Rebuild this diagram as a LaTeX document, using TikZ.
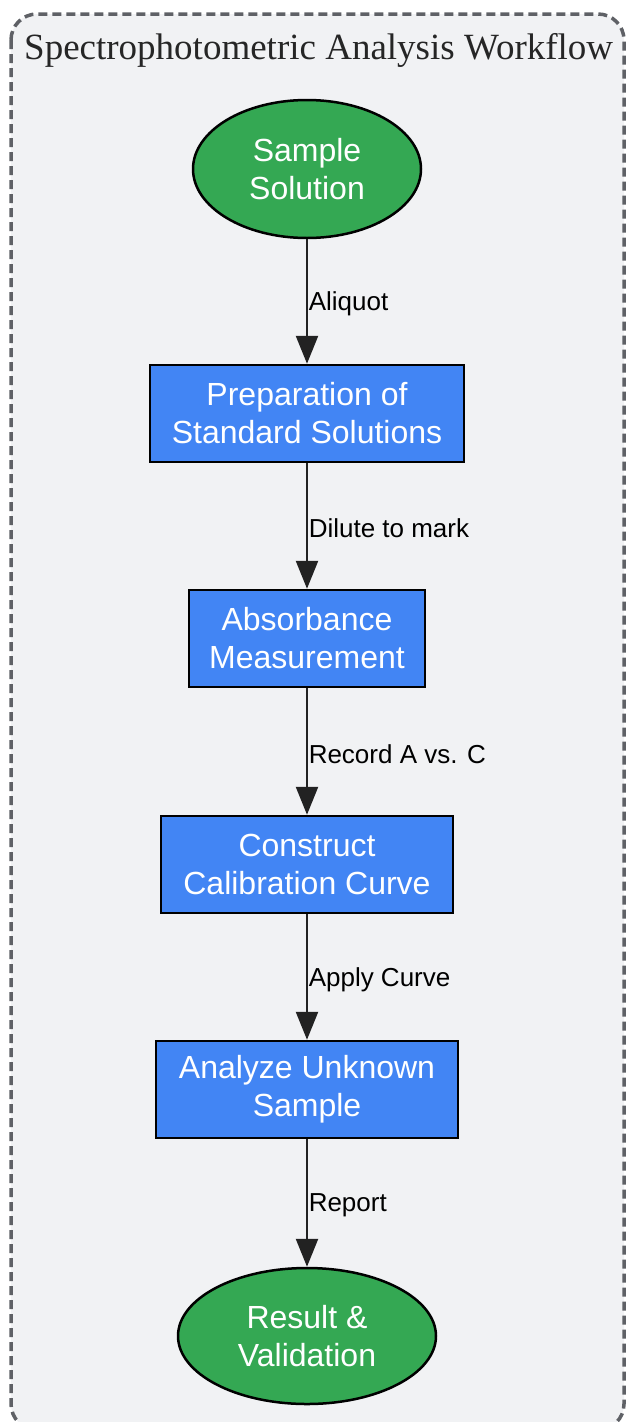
\documentclass[tikz,border=0pt]{standalone}
\usepackage{fontspec}
\setmainfont{Liberation Serif}
\newfontfamily\arialf{Liberation Sans}
\usetikzlibrary{shapes.geometric,arrows.meta}
\definecolor{bgfill}{HTML}{F1F2F4}
\definecolor{frame}{HTML}{5F6166}
\definecolor{gfill}{HTML}{34A853}
\definecolor{bfill}{HTML}{4285F4}
\definecolor{edgec}{HTML}{222222}
\tikzset{
  term/.style={ellipse, draw=black, line width=2.5pt, fill=gfill, text=white, inner sep=0pt,
    font=\arialf\fontsize{32}{38}\selectfont, align=center, yshift=-1pt},
  proc/.style={rectangle, draw=black, line width=2.5pt, fill=bfill, text=white, inner sep=0pt,
    minimum height=97pt, font=\arialf\fontsize{32}{38}\selectfont, align=center},
  edge/.style={draw=edgec, line width=2.5pt, -{Triangle[width=22pt,length=28pt]}},
  elabel/.style={right, inner sep=0pt, xshift=0.5pt, yshift=-2.5pt, text=black, font=\arialf\fontsize{26}{30}\selectfont}
}
\begin{document}
\begin{tikzpicture}[x=1pt,y=-1pt]
\useasboundingbox (0,0) rectangle (626,1422);
\fill[white] (0,0) rectangle (626,1422);
\draw[frame, fill=bgfill, line width=3.5pt, dash pattern=on 9pt off 5pt, rounded corners=26pt]
  (11,14) rectangle (624,1430);
\node[anchor=base west, inner sep=0pt, text=black!85, font=\fontsize{37}{40}\selectfont] (title) at (24,59) {Spectrophotometric Analysis Workflow};
\node[term, minimum width=228pt, minimum height=138pt] (n1) at (307,168) {Sample\\Solution};
\node[proc, minimum width=314pt] (n2) at (307,413.5) {Preparation of\\Standard Solutions};
\node[proc, minimum width=236pt] (n3) at (307,638.5) {Absorbance\\Measurement};
\node[proc, minimum width=292pt] (n4) at (307,864.5) {Construct\\Calibration Curve};
\node[proc, minimum width=302pt] (n5) at (307,1089.5) {Analyze Unknown\\Sample};
\node[term, minimum width=258pt, minimum height=136pt] (n6) at (307,1335) {Result \&\\Validation};
\draw[edge] (n1) -- (n2) node[midway, elabel] {Aliquot};
\draw[edge] (n2) -- (n3) node[midway, elabel] {Dilute to mark};
\draw[edge] (n3) -- (n4) node[midway, elabel] {Record A vs. C};
\draw[edge] (n4) -- (n5) node[midway, elabel] {Apply Curve};
\draw[edge] (n5) -- (n6) node[midway, elabel] {Report};
\end{tikzpicture}
\end{document}
